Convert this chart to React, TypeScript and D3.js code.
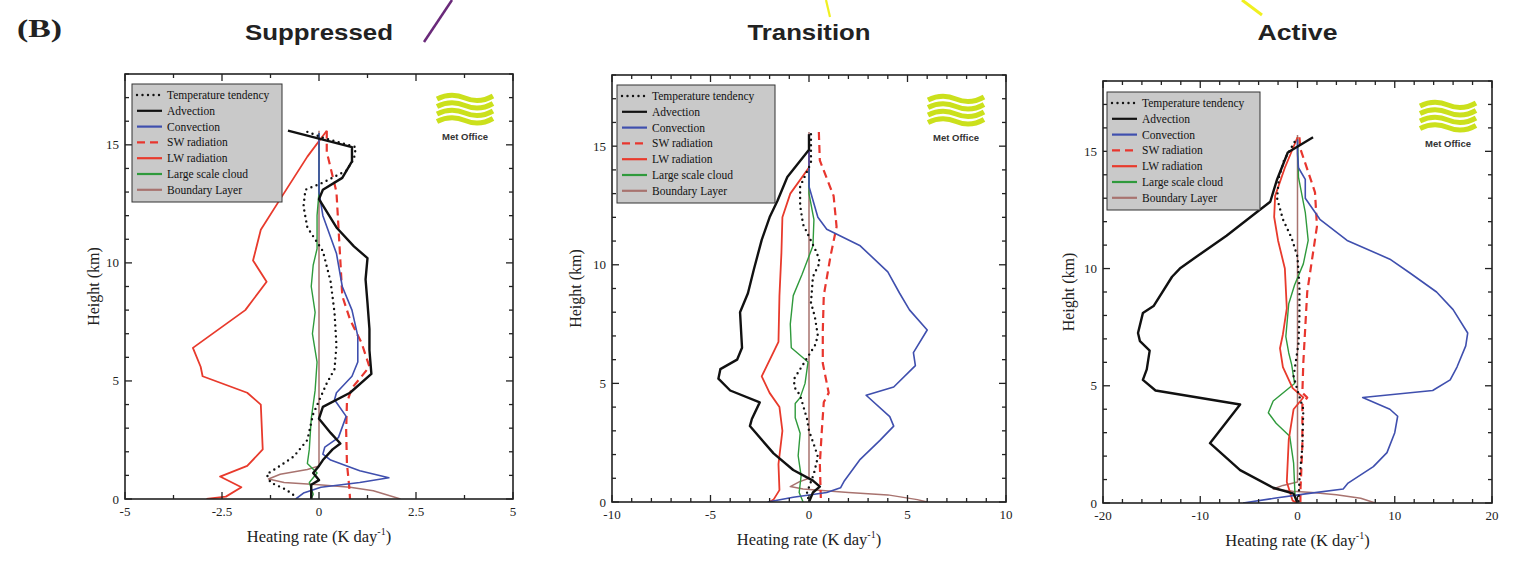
import * as React from 'react';
import * as d3 from 'd3';

// each point is [heating rate (K/day), height (km)]
type Pt = [number, number];

const seriesNames = ['Temperature tendency', 'Advection', 'Convection', 'SW radiation', 'LW radiation', 'Large scale cloud', 'Boundary Layer'];
const heightTicks = [0, 5, 10, 15];

// ---- Suppressed
const supTendency: Pt[] = [[-0.3,15.55],[0.1,15.3],[0.95,14.9],[0.9,14.4],[0.7,13.9],[0.1,13.4],[-0.35,13.1],[-0.4,12.4],[-0.3,11.5],[0.1,10.5],[0.3,9.2],[0.4,7.9],[0.45,6.5],[0.4,5.5],[0.2,4.9],[-0.15,3.6],[-0.3,2.5],[-0.65,1.8],[-1.1,1.3],[-1.35,1.05],[-1.25,0.7],[-0.85,0.4],[-0.6,0.1]];
const supAdvection: Pt[] = [[-0.8,15.6],[0.85,14.9],[0.85,14.3],[0.6,13.6],[0.1,13.1],[0.0,12.7],[0.45,11.5],[0.9,10.7],[1.25,10.2],[1.2,9.3],[1.25,8.3],[1.3,7.2],[1.3,6.3],[1.35,5.3],[0.8,4.5],[0.1,3.9],[0.0,3.4],[0.3,2.8],[0.55,2.35],[0.35,2.1],[0.1,1.65],[0.0,1.4],[-0.15,1.1],[0.0,0.8],[-0.2,0.6],[-0.2,0.2],[-0.2,0]];
const supConvection: Pt[] = [[0.0,15.5],[0.0,13.0],[0.1,12.0],[0.45,10.4],[0.6,9.0],[0.85,8.0],[1.0,6.9],[1.0,5.8],[0.85,5.2],[0.45,4.5],[0.4,4.2],[0.7,3.5],[0.5,2.6],[0.15,2.2],[0.1,1.9],[0.3,1.65],[1.05,1.2],[1.8,0.9],[1.05,0.7],[0.05,0.5],[-0.4,0.25],[-0.6,0]];
const supSW: Pt[] = [[0.2,15.6],[0.2,14.7],[0.45,13.0],[0.55,10.1],[0.6,8.6],[0.8,7.6],[1.1,6.6],[1.3,5.6],[0.85,4.7],[0.72,4.1],[0.7,2.9],[0.72,1.5],[0.78,0.5],[0.8,0]];
const supLW: Pt[] = [[0.2,15.6],[-0.3,14.5],[-1.0,12.7],[-1.5,11.4],[-1.7,10.1],[-1.35,9.2],[-1.9,8.0],[-3.25,6.4],[-3.05,5.6],[-3.0,5.2],[-1.85,4.5],[-1.5,4.0],[-1.45,2.1],[-1.85,1.4],[-2.55,0.95],[-2.0,0.5],[-2.4,0.1],[-2.9,0]];
const supCloud: Pt[] = [[0.0,15.5],[0.0,13.0],[-0.05,12.0],[-0.05,10.6],[-0.15,9.9],[-0.2,9.0],[-0.1,7.9],[-0.17,7.0],[-0.05,5.8],[-0.1,4.6],[-0.2,3.4],[-0.25,2.1],[-0.3,1.5],[-0.05,1.1],[-0.25,0.7],[-0.15,0.2],[-0.2,0]];
const supBL: Pt[] = [[0,15.6],[0,1.4],[-0.3,1.25],[-1.0,1.05],[-1.3,0.85],[-0.9,0.7],[0.0,0.6],[0.8,0.5],[1.4,0.35],[2.1,0.0]];

// ---- Transition
const traTendency: Pt[] = [[0.1,15.5],[0.1,14.3],[-0.45,13.3],[-0.45,12.5],[-0.3,11.7],[0.4,10.5],[0.55,10.1],[0.2,9.5],[0.1,8.4],[0.3,7.8],[0.45,7.0],[0.3,6.6],[-0.45,5.6],[-0.75,5.2],[-0.75,4.85],[-0.45,4.5],[-0.1,3.5],[0.0,3.0],[0.3,2.3],[0.45,1.9],[0.25,1.2],[-0.1,0.4],[0,0]];
const traAdvection: Pt[] = [[0,15.5],[0,14.85],[-1.1,13.7],[-1.6,12.7],[-2.0,12.0],[-2.4,11.05],[-2.8,9.8],[-3.1,8.8],[-3.5,8.0],[-3.4,6.5],[-3.65,6.0],[-4.5,5.6],[-4.6,5.2],[-4.0,4.7],[-2.5,4.2],[-2.9,3.5],[-3.0,3.2],[-1.8,2.05],[-0.8,1.35],[0.2,0.9],[0.55,0.65],[0.2,0.4],[0.0,0.0]];
const traConvection: Pt[] = [[0,15.5],[0,13.3],[0.45,12.0],[0.9,11.5],[2.6,10.8],[4.0,9.7],[4.6,8.8],[5.1,8.1],[6.0,7.25],[5.3,6.3],[5.4,5.75],[4.3,4.85],[2.9,4.5],[4.1,3.6],[4.3,3.2],[3.6,2.6],[2.6,1.8],[1.8,0.9],[1.6,0.6],[0.9,0.4],[-0.8,0.2],[-2.1,0]];
const traSW: Pt[] = [[0.5,15.6],[0.55,14.4],[1.25,12.9],[1.4,11.6],[1.1,10.4],[0.75,8.7],[0.7,7.2],[0.7,5.85],[1.0,4.6],[0.75,4.2],[0.65,3.0],[0.55,1.6],[0.6,0.2],[0.6,0]];
const traLW: Pt[] = [[0,15.5],[0,14.1],[-0.95,13.0],[-1.35,12.0],[-1.4,10.5],[-1.5,8.7],[-1.55,6.75],[-2.4,5.3],[-2.0,4.6],[-1.5,4.0],[-1.35,3.0],[-1.55,1.6],[-1.5,0.5],[-1.8,0.1],[-2.0,0]];
const traCloud: Pt[] = [[0,15.5],[0,13.0],[0.25,11.9],[0.2,10.8],[-0.35,9.6],[-0.8,8.7],[-0.95,7.5],[-0.9,6.5],[-0.05,5.9],[-0.2,5.0],[-0.45,4.4],[-0.7,4.15],[-0.7,3.55],[-0.45,2.9],[-0.55,1.95],[-0.4,1.1],[-0.5,0.4],[-0.3,0]];
const traBL: Pt[] = [[0,15.6],[0,1.0],[-0.5,0.85],[-0.95,0.65],[-0.3,0.55],[0.5,0.5],[2.0,0.4],[4.0,0.3],[5.5,0.1],[6.0,0]];

// ---- Active
const actTendency: Pt[] = [[-0.3,15.4],[-1.4,14.6],[-1.9,13.9],[-2.1,13.0],[-1.5,12.1],[-0.6,11.3],[0.0,10.5],[0.2,9.2],[0.2,8.0],[0.1,6.8],[-0.4,5.4],[0.0,4.8],[0.6,4.0],[0.5,2.4],[0.2,1.0],[0.1,0]];
const actAdvection: Pt[] = [[1.6,15.6],[-1.0,14.95],[-2.1,13.8],[-2.8,12.85],[-4.2,12.4],[-7.3,11.4],[-10.4,10.5],[-12.1,10.0],[-12.9,9.65],[-14.8,8.4],[-15.9,8.1],[-16.4,7.25],[-16.2,6.9],[-15.2,6.5],[-15.5,5.7],[-15.9,5.25],[-14.6,4.8],[-5.9,4.2],[-9.0,2.55],[-5.9,1.4],[-2.5,0.65],[-0.4,0.4],[0,0]];
const actConvection: Pt[] = [[0,15.5],[0,14.9],[0.1,14.3],[0.8,13.8],[0.8,13.0],[2.3,12.1],[5.1,11.2],[9.5,10.4],[11.6,9.8],[14.3,9.0],[16.0,8.25],[17.5,7.25],[17.3,6.7],[16.4,5.8],[15.7,5.25],[13.9,4.8],[6.7,4.5],[9.5,4.0],[10.3,3.7],[10.0,3.0],[9.2,2.15],[7.8,1.55],[5.2,0.85],[4.7,0.6],[1.0,0.4],[-2.4,0.2],[-5.6,0]];
const actSW: Pt[] = [[0.2,15.6],[0.3,15.1],[1.2,14.0],[1.8,13.25],[2.0,11.8],[1.5,10.4],[1.0,9.0],[0.8,7.5],[0.6,6.0],[0.5,4.7],[1.0,4.5],[0.5,4.2],[0.5,2.5],[0.3,0.5],[0.3,0]];
const actLW: Pt[] = [[0,15.6],[-1.3,14.3],[-2.3,13.1],[-2.4,12.2],[-2.0,11.2],[-1.3,10.0],[-1.1,8.3],[-1.5,7.2],[-1.8,6.6],[-1.5,5.8],[-0.5,4.9],[0.6,4.5],[-0.4,4.0],[-0.9,2.7],[-1.1,0.9],[-0.5,0.1],[0,0]];
const actCloud: Pt[] = [[0,15.6],[0.1,13.9],[0.8,12.4],[1.1,11.2],[0.6,10.2],[-0.3,9.3],[-0.9,8.5],[-1.2,7.1],[-0.9,6.4],[-0.6,5.9],[-0.3,5.1],[-2.5,4.35],[-3.0,3.85],[-2.2,3.4],[-0.8,2.85],[-0.4,1.7],[-0.25,0.3],[0,0]];
const actBL: Pt[] = [[0,15.7],[0,0.9],[-1.5,0.75],[-2.5,0.6],[-0.5,0.5],[1.5,0.45],[4.0,0.35],[6.5,0.2],[8.0,0]];

const styles = [
  { color: '#111', width: 2.4, dash: '0 5.5' },
  { color: '#111', width: 2.4, dash: null },
  { color: '#3f4fae', width: 1.6, dash: null },
  { color: '#e8362e', width: 2.2, dash: '8 5' },
  { color: '#e83a2c', width: 1.8, dash: null },
  { color: '#2f9a3c', width: 1.4, dash: null },
  { color: '#a8736f', width: 1.5, dash: null },
];
const drawOrder = [6, 5, 4, 3, 2, 1, 0];

const panels = [
  { title: 'Suppressed', titleW: 148, left: 125, right: 513, top: 74, bottom: 499, xDomain: [-5, 5], majors: [-5, -2.5, 0, 2.5, 5], minorStep: 1.25, yLabOff: 31, legend: [7, 10, 150], logoR: 76,
    series: [supTendency, supAdvection, supConvection, supSW, supLW, supCloud, supBL] },
  { title: 'Transition', titleW: 123, left: 612, right: 1006, top: 75, bottom: 502, xDomain: [-10, 10], majors: [-10, -5, 0, 5, 10], minorStep: 1, yLabOff: 36, legend: [5, 10, 158], logoR: 78,
    series: [traTendency, traAdvection, traConvection, traSW, traLW, traCloud, traBL] },
  { title: 'Active', titleW: 80, left: 1103, right: 1492, top: 81, bottom: 503, xDomain: [-20, 20], majors: [-20, -10, 0, 10, 20], minorStep: 2, yLabOff: 34, legend: [4, 11, 153], logoR: 72,
    series: [actTendency, actAdvection, actConvection, actSW, actLW, actCloud, actBL] },
];

const serif = '"Liberation Serif", "DejaVu Serif", serif';
const sans = '"Liberation Sans", Arial, sans-serif';

const Logo = ({ x, y }: { x: number; y: number }) => (
  <g>
    {[0, 1, 2, 3].map(i => {
      const y0 = y + 5 + i * 7.5;
      return <path key={i} d={`M${x},${y0 + 2} Q${x + 14},${y0 - 5} ${x + 28},${y0 + 1} T${x + 56},${y0 - 1}`} fill="none" stroke="#cbe01c" strokeWidth={5} />;
    })}
    <text x={x + 28} y={y + 48} textAnchor="middle" fontFamily={sans} fontWeight="bold" fontSize={9.5} fill="#333">Met Office</text>
  </g>
);

const Panel = ({ p, idx }: { p: typeof panels[number]; idx: number }) => {
  const x = d3.scaleLinear().domain(p.xDomain).range([p.left, p.right]);
  const y = d3.scaleLinear().domain([0, 18]).range([p.bottom, p.top]);
  const line = d3.line<Pt>().x(d => x(d[0])).y(d => y(d[1]));
  const minorX = d3.range(p.xDomain[0], p.xDomain[1] + 1e-6, p.minorStep);
  const minorY = d3.range(0, 18.001, 1);
  const clipId = `clip${idx}`;
  const [lx, ly, lw] = p.legend;
  const bx = p.left + lx, by = p.top + ly;
  const cx = (p.left + p.right) / 2;
  const cy = (p.top + p.bottom) / 2;
  return (
    <g>
      <defs>
        <clipPath id={clipId}><rect x={p.left} y={p.top} width={p.right - p.left} height={p.bottom - p.top} /></clipPath>
      </defs>
      <text x={cx} y={40} textAnchor="middle" fontFamily={sans} fontWeight="bold" fontSize={22} fill="#222" textLength={p.titleW} lengthAdjust="spacingAndGlyphs">{p.title}</text>

      <g clipPath={`url(#${clipId})`}>
        {drawOrder.map(k => (
          <path key={k} d={line(p.series[k]) || ''} fill="none" stroke={styles[k].color} strokeWidth={styles[k].width}
            strokeDasharray={styles[k].dash || undefined} strokeLinecap={k === 0 ? 'round' : 'butt'} strokeLinejoin="round" />
        ))}
      </g>

      {/* frame and inward ticks on all sides */}
      <rect x={p.left} y={p.top} width={p.right - p.left} height={p.bottom - p.top} fill="none" stroke="#222" strokeWidth={1.6} />
      {minorX.map((v, i) => {
        const L = p.majors.some(m => Math.abs(m - v) < 1e-6) ? 7 : 4;
        return <g key={'x' + i} stroke="#222" strokeWidth={1.3}>
          <line x1={x(v)} x2={x(v)} y1={p.bottom} y2={p.bottom - L} />
          <line x1={x(v)} x2={x(v)} y1={p.top} y2={p.top + L} />
        </g>;
      })}
      {minorY.map((v, i) => {
        const L = heightTicks.includes(v) ? 7 : 4;
        return <g key={'y' + i} stroke="#222" strokeWidth={1.3}>
          <line x1={p.left} x2={p.left + L} y1={y(v)} y2={y(v)} />
          <line x1={p.right} x2={p.right - L} y1={y(v)} y2={y(v)} />
        </g>;
      })}
      {p.majors.map(v => (
        <text key={'xl' + v} x={x(v)} y={p.bottom + 17} textAnchor="middle" fontFamily={serif} fontSize={13} fill="#222">{String(v)}</text>
      ))}
      {heightTicks.map(v => (
        <text key={'yl' + v} x={p.left - 6} y={y(v) + 4.5} textAnchor="end" fontFamily={serif} fontSize={13} fill="#222">{v}</text>
      ))}
      <text x={cx} y={p.bottom + 43} textAnchor="middle" fontFamily={serif} fontSize={16.5} fill="#222">
        Heating rate (K day<tspan dy={-7} fontSize={10}>-1</tspan><tspan dy={7}>)</tspan>
      </text>
      <text transform={`translate(${p.left - p.yLabOff + 5},${cy}) rotate(-90)`} textAnchor="middle" fontFamily={serif} fontSize={16} fill="#222">Height (km)</text>

      {/* legend */}
      <rect x={bx} y={by} width={lw} height={118} fill="#c9c9c9" stroke="#333" strokeWidth={1} />
      {seriesNames.map((n, k) => {
        const yy = by + 11 + k * 15.8;
        return <g key={n}>
          <line x1={bx + 5} x2={bx + 30} y1={yy} y2={yy} stroke={styles[k].color} strokeWidth={k === 0 ? 2.4 : 2.2}
            strokeDasharray={k === 0 ? '0 5.5' : k === 3 ? '8 5' : undefined} strokeLinecap={k === 0 ? 'round' : 'butt'} />
          <text x={bx + 35} y={yy + 4} fontFamily={serif} fontSize={11.5} fill="#111">{n}</text>
        </g>;
      })}
      <Logo x={p.right - p.logoR} y={p.top + 18} />
    </g>
  );
};

const App = () => (
  <svg width={1517} height={562} style={{ display: 'block', position: 'absolute', left: 0, top: 0, background: '#fff' }}>
    <rect width={1517} height={562} fill="#fff" />
    <text x={17} y={37} fontFamily={serif} fontWeight="bold" fontSize={26} fill="#222" textLength={45} lengthAdjust="spacingAndGlyphs">(B)</text>
    {/* arrow stubs from the figure above */}
    <line x1={424} y1={42} x2={452} y2={0} stroke="#6a2a7a" strokeWidth={2.5} />
    <line x1={826} y1={0} x2={830} y2={17} stroke="#f0f020" strokeWidth={2.2} />
    <line x1={1242} y1={0} x2={1262} y2={15} stroke="#f0f020" strokeWidth={3} />
    {panels.map((p, i) => <Panel key={p.title} p={p} idx={i} />)}
  </svg>
);

export default App;
